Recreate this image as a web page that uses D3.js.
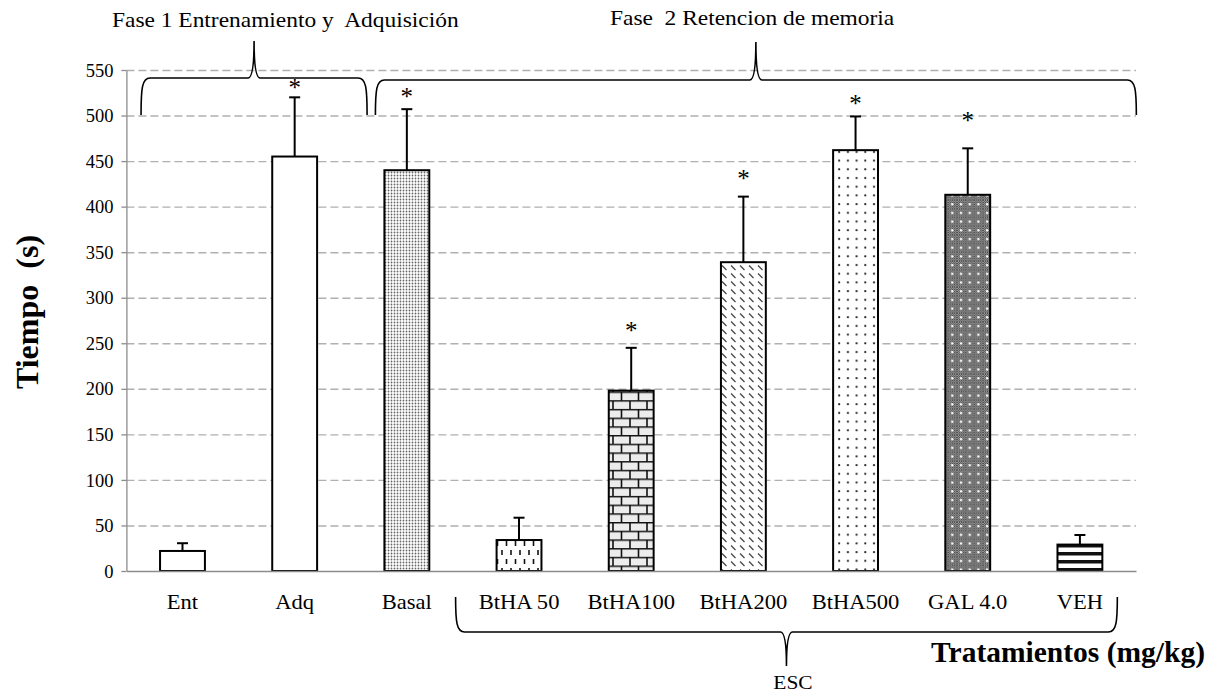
<!DOCTYPE html>
<html>
<head>
<meta charset="utf-8">
<style>
  body { margin: 0; background: #fff; }
  text { font-family: "Liberation Serif", "Times New Roman", serif; fill: #000; }
</style>
</head>
<body>
<div id="chart"></div>
<script src="https://d3js.org/d3.v7.min.js"></script>
<script>
// data
const categories = ["Ent", "Adq", "Basal", "BtHA 50", "BtHA100", "BtHA200", "BtHA500", "GAL 4.0", "VEH"];
const means = [22, 455, 440, 34, 198, 339, 462, 413, 29];
const errors = [8.5, 65, 67, 24.5, 47, 72, 37, 51, 10.5];
// height (in seconds) where the significance star sits, null = no star
const starAt = [null, 534, 524, null, 267, 434, 516, 497, null];
const fills = ["white", "white", "basal", "vdash", "brick", "diag", "dots", "gal", "stripes"];
const yTicks = [0, 50, 100, 150, 200, 250, 300, 350, 400, 450, 500, 550];

const width = 1215, height = 694;
const plot = { left: 126.4, right: 1136, top: 70, bottom: 571 };
const SX = 1.1; // the picture's text is a little stretched sideways

const svg = d3.select("#chart").append("svg")
    .attr("width", width)
    .attr("height", height);

const x = d3.scaleBand()
    .domain(categories)
    .range([plot.left, plot.right])
    .paddingInner(0.6)
    .paddingOuter(0.3);

const y = d3.scaleLinear()
    .domain([0, 550])
    .range([plot.bottom, plot.top]);

// ---- fill patterns ----
const defs = svg.append("defs");

function pattern(id, w, h) {
    return defs.append("pattern").attr("id", id)
        .attr("patternUnits", "userSpaceOnUse")
        .attr("width", w).attr("height", h);
}

let p = pattern("basal", 3, 3);
p.append("rect").attr("width", 3).attr("height", 3).attr("fill", "#fff");
p.append("circle").attr("cx", 1.5).attr("cy", 1.5).attr("r", 0.9).attr("fill", "#666");

p = pattern("vdash", 9, 18);
p.append("rect").attr("width", 9).attr("height", 18).attr("fill", "#fff");
p.append("line").attr("x1", 2.5).attr("x2", 2.5).attr("y1", 1).attr("y2", 6)
    .attr("stroke", "#111").attr("stroke-width", 1.6);
p.append("line").attr("x1", 7).attr("x2", 7).attr("y1", 10).attr("y2", 15)
    .attr("stroke", "#111").attr("stroke-width", 1.6);

p = pattern("brick", 17, 17.4);
p.append("rect").attr("width", 17).attr("height", 17.4).attr("fill", "#ececec");
p.append("path")
    .attr("d", "M0,0.75H17M0,9.45H17M1,0.75V9.45M9.5,9.45V17.4")
    .attr("stroke", "#111").attr("stroke-width", 1.6).attr("fill", "none");

p = pattern("diag", 9, 8);
p.append("rect").attr("width", 9).attr("height", 8).attr("fill", "#fff");
p.append("path").attr("d", "M2,1.5L6.5,6")
    .attr("stroke", "#444").attr("stroke-width", 1.3).attr("fill", "none");

p = pattern("dots", 8.7, 8.7);
p.append("rect").attr("width", 8.7).attr("height", 8.7).attr("fill", "#fff");
p.append("circle").attr("cx", 4).attr("cy", 4).attr("r", 1.1).attr("fill", "#222");

p = pattern("checker", 2, 2);
p.append("rect").attr("width", 2).attr("height", 2).attr("fill", "#b4b4b4");
p.append("rect").attr("width", 1).attr("height", 1).attr("fill", "#3a3a3a");
p.append("rect").attr("x", 1).attr("y", 1).attr("width", 1).attr("height", 1).attr("fill", "#3a3a3a");

p = pattern("gal", 8.7, 8.7);
p.append("rect").attr("width", 8.7).attr("height", 8.7).attr("fill", "url(#checker)");
p.append("circle").attr("cx", 4).attr("cy", 4).attr("r", 1.2).attr("fill", "#fff");

p = pattern("stripes", 8, 8);
p.append("rect").attr("width", 8).attr("height", 8).attr("fill", "#fff");
p.append("rect").attr("y", 0).attr("width", 8).attr("height", 3.5).attr("fill", "#111");

// ---- grid ----
svg.append("g")
    .attr("transform", `translate(${plot.left},0)`)
    .call(d3.axisLeft(y).tickValues(yTicks.filter(d => d > 0))
        .tickSize(-(plot.right - plot.left)).tickFormat(""))
    .call(g => g.select(".domain").remove())
    .call(g => g.selectAll(".tick line")
        .attr("stroke", "#b0b0b0").attr("stroke-width", 1.4)
        .attr("stroke-dasharray", "8,4"));

// ---- axes ----
const yAxis = svg.append("g")
    .attr("transform", `translate(${plot.left},0)`)
    .call(d3.axisLeft(y).tickValues(yTicks).tickSize(5).tickSizeOuter(0).tickPadding(8));
yAxis.select(".domain").attr("stroke", "#8c8c8c").attr("stroke-width", 1.3);
yAxis.selectAll(".tick line").attr("stroke", "#8c8c8c").attr("stroke-width", 1.3);
yAxis.selectAll(".tick text")
    .attr("font-size", 18.5)
    .attr("font-family", "Liberation Serif")
    .attr("dy", "0.33em");

// ---- bars ----
svg.append("g")
    .selectAll("rect")
    .data(categories)
    .join("rect")
    .attr("x", d => x(d))
    .attr("y", (d, i) => y(means[i]))
    .attr("width", x.bandwidth())
    .attr("height", (d, i) => y(0) - y(means[i]))
    .attr("fill", (d, i) => fills[i] === "white" ? "#fff" : `url(#${fills[i]})`)
    .attr("stroke", "#000")
    .attr("stroke-width", 2);

const xAxis = svg.append("g")
    .attr("transform", `translate(0,${plot.bottom})`)
    .call(d3.axisBottom(x).tickSize(0).tickPadding(23));
xAxis.select(".domain").attr("stroke", "#8c8c8c").attr("stroke-width", 1.6);
xAxis.selectAll(".tick text")
    .attr("font-size", 20.5)
    .attr("font-family", "Liberation Serif")
    .attr("transform", `scale(${SX},1)`);

// ---- error bars ----
const err = svg.append("g").attr("stroke", "#000").attr("stroke-width", 2);
categories.forEach((c, i) => {
    const cx = x(c) + x.bandwidth() / 2;
    const top = y(means[i] + errors[i]);
    err.append("line").attr("x1", cx).attr("x2", cx)
        .attr("y1", y(means[i])).attr("y2", top);
    err.append("line").attr("x1", cx - 5.5).attr("x2", cx + 5.5)
        .attr("y1", top).attr("y2", top);
});

// ---- asterisks ----
svg.append("g")
    .selectAll("text")
    .data(categories.filter((c, i) => starAt[i] !== null))
    .join("text")
    .attr("x", d => x(d) + x.bandwidth() / 2)
    .attr("y", d => y(starAt[categories.indexOf(d)]) + 11)
    .attr("text-anchor", "middle")
    .attr("font-size", 25)
    .attr("fill", "#222")
    .text("*");

// ---- braces ----
function braceH(x1, x2, yEnd, yLine, yTip) {
    const xm = (x1 + x2) / 2, s = Math.sign(yEnd - yLine);
    return `M${x1},${yEnd}C${x1},${yLine + s * 10} ${x1 + 1},${yLine} ${x1 + 9},${yLine}` +
        `L${xm - 6},${yLine}Q${xm},${yLine} ${xm},${yTip}Q${xm},${yLine} ${xm + 6},${yLine}` +
        `L${x2 - 9},${yLine}C${x2 - 1},${yLine} ${x2},${yLine + s * 10} ${x2},${yEnd}`;
}
const braces = svg.append("g").attr("fill", "none").attr("stroke", "#000").attr("stroke-width", 1.6);
const bw = x.bandwidth();
braces.append("path").attr("d", braceH(x("Ent") - 19, x("Adq") + bw + 50, 115, 78, 41));
braces.append("path").attr("d", braceH(x("Basal") - 9, x("VEH") + bw + 34, 115, 80, 42));
braces.append("path").attr("d", braceH(x("BtHA 50") - 41, x("VEH") + bw + 15, 597, 632, 666));

// ---- labels ----
function label(str, px, py, size, opts = {}) {
    svg.append("g").attr("transform", `translate(${px},${py})`)
        .append("text")
        .attr("font-size", size)
        .attr("font-weight", opts.bold ? "bold" : null)
        .attr("text-anchor", opts.anchor || "start")
        .attr("transform", `scale(${opts.sx || SX},1)`)
        .style("white-space", "pre")
        .text(str);
}
label("Fase 1 Entrenamiento y  Adquisición", 112, 27, 21.3);
label("Fase  2 Retencion de memoria", 610, 25, 21.3);
label("ESC", 793, 689, 19.5, { anchor: "middle" });
label("Tratamientos (mg/kg)", 1205, 662, 29.5, { bold: true, anchor: "end", sx: 1.0 });

svg.append("g").attr("transform", "translate(38,312) rotate(-90)")
    .append("text")
    .attr("font-size", 32)
    .attr("font-weight", "bold")
    .attr("text-anchor", "middle")
    .style("white-space", "pre")
    .text("Tiempo  (s)");
</script>
</body>
</html>
